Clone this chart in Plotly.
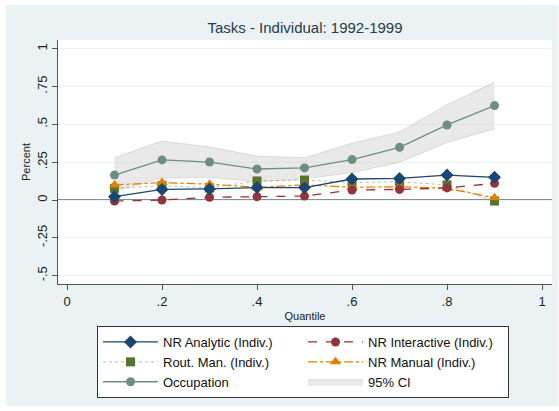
import plotly.graph_objects as go

# ---- data ----
quantiles = [0.1, 0.2, 0.3, 0.4, 0.5, 0.6, 0.7, 0.8, 0.9]
nr_analytic = [0.022, 0.070, 0.073, 0.082, 0.082, 0.139, 0.143, 0.165, 0.150]
nr_interactive = [-0.007, 0.000, 0.018, 0.022, 0.026, 0.066, 0.070, 0.080, 0.110]
rout_man = [0.077, 0.095, 0.080, 0.126, 0.132, 0.115, 0.121, 0.100, -0.007]
nr_manual = [0.100, 0.115, 0.105, 0.084, 0.100, 0.084, 0.088, 0.077, 0.015]
occupation = [0.165, 0.265, 0.251, 0.205, 0.212, 0.267, 0.348, 0.496, 0.624]
ci_upper = [0.28, 0.39, 0.35, 0.29, 0.28, 0.375, 0.45, 0.63, 0.78]
ci_lower = [0.06, 0.145, 0.15, 0.12, 0.14, 0.18, 0.25, 0.38, 0.47]

x_ticks = [0, 0.2, 0.4, 0.6, 0.8, 1]
x_ticklabels = ["0", ".2", ".4", ".6", ".8", "1"]
y_ticks = [-0.5, -0.25, 0, 0.25, 0.5, 0.75, 1]
y_ticklabels = ["-.5", "-.25", "0", ".25", ".5", ".75", "1"]

FONT = "Liberation Sans, Arial, sans-serif"
BG = "#eaf2f3"

fig = go.Figure()

# CI band (drawn first)
fig.add_trace(go.Scatter(x=quantiles, y=ci_upper, mode="lines",
                         line=dict(color="rgba(190,190,190,0.6)", width=0.8),
                         showlegend=False, hoverinfo="skip"))
fig.add_trace(go.Scatter(x=quantiles, y=ci_lower, mode="lines", fill="tonexty",
                         fillcolor="rgba(200,200,200,0.4)",
                         line=dict(color="rgba(190,190,190,0.6)", width=0.8),
                         name="95% CI", legendrank=6))

fig.add_trace(go.Scatter(x=quantiles, y=occupation, mode="lines+markers",
                         line=dict(color="#6e8e84", width=1.3),
                         marker=dict(symbol="circle", size=9, color="#6e8e84"),
                         name="Occupation", legendrank=5))
fig.add_trace(go.Scatter(x=quantiles, y=rout_man, mode="lines+markers",
                         line=dict(color="rgba(85,117,47,0.45)", width=1, dash="dot"),
                         marker=dict(symbol="square", size=9, color="#55752f"),
                         name="Rout. Man. (Indiv.)", legendrank=3))
fig.add_trace(go.Scatter(x=quantiles, y=nr_manual, mode="lines+markers",
                         line=dict(color="#e37e00", width=1.2, dash="dashdot"),
                         marker=dict(symbol="triangle-up", size=10, color="#e37e00"),
                         name="NR Manual (Indiv.)", legendrank=4))
fig.add_trace(go.Scatter(x=quantiles, y=nr_interactive, mode="lines+markers",
                         line=dict(color="#90353b", width=1.3, dash="dash"),
                         marker=dict(symbol="circle", size=9, color="#90353b"),
                         name="NR Interactive (Indiv.)", legendrank=2))
fig.add_trace(go.Scatter(x=quantiles, y=nr_analytic, mode="lines+markers",
                         line=dict(color="#1a476f", width=1.3),
                         marker=dict(symbol="diamond", size=10, color="#1a476f"),
                         name="NR Analytic (Indiv.)", legendrank=1))

fig.add_hline(y=0, line=dict(color="#666666", width=1.5), layer="below")

W, H = 552, 401
fig.update_layout(
    width=W, height=H,
    margin=dict(l=52, r=6, t=35, b=122, autoexpand=False),
    paper_bgcolor=BG, plot_bgcolor="white",
    font=dict(family=FONT, color="#222222", size=12),
    title=dict(text="Tasks - Individual: 1992-1999", x=0.5, xref="paper",
               y=1 - 23 / H, yref="container", yanchor="middle",
               font=dict(size=15, color="#2b3a4a")),
    showlegend=True,
    legend=dict(orientation="h", x=(91 - 52) / 494, xanchor="left",
                y=(284 - 326) / 244, yanchor="top",
                bgcolor="white", bordercolor="#333333", borderwidth=1,
                font=dict(size=13, color="#111111"),
                entrywidth=135, entrywidthmode="pixels", itemwidth=55,
                traceorder="normal"),
)

fig.update_xaxes(range=[-0.019, 1.021], tickvals=x_ticks, ticktext=x_ticklabels,
                 automargin=False,
                 showgrid=False, zeroline=False, showline=True, linecolor="#555555",
                 linewidth=1, ticks="outside", ticklen=5, tickcolor="#555555",
                 tickfont=dict(size=13),
                 title=dict(text="Quantile", font=dict(size=11), standoff=4))
fig.update_yaxes(range=[-0.555, 1.0575], tickvals=y_ticks, ticktext=y_ticklabels,
                 automargin=False,
                 tickangle=-90, showgrid=True, gridcolor=BG, gridwidth=1,
                 zeroline=False, showline=True, linecolor="#555555", linewidth=1,
                 ticks="outside", ticklen=5, tickcolor="#555555",
                 tickfont=dict(size=13),
                 title=dict(text="Percent", font=dict(size=11), standoff=1))

fig.write_html("out.html", config={"displayModeBar": False},
               post_script="document.body.style.margin='5px 0 0 6px';"
                           "document.body.style.overflow='hidden';")
